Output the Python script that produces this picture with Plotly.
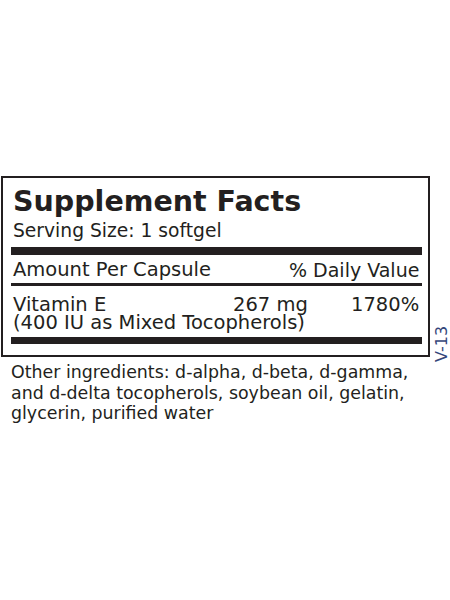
import plotly.graph_objects as go

# ---- content ----
title = "Supplement Facts"
serving = "Serving Size: 1 softgel"
header_left = "Amount Per Capsule"
header_right = "% Daily Value"
nutrients = ["Vitamin E"]
nutrient_notes = ["(400 IU as Mixed Tocopherols)"]
amounts = ["267 mg"]
daily_values = ["1780%"]
other_lines = [
    "Other ingredients: d-alpha, d-beta, d-gamma,",
    "and d-delta tocopherols, soybean oil, gelatin,",
    "glycerin, purified water",
]
code = "V-13"

FONT = "DejaVu Sans"
INK = "#231f20"

fig = go.Figure()
fig.update_xaxes(range=[0, 450], visible=False, fixedrange=True)
fig.update_yaxes(range=[600, 0], visible=False, fixedrange=True)

shapes = []
shapes.append(dict(type="rect", x0=2, x1=429, y0=177, y1=356,
                   line=dict(color=INK, width=2), fillcolor="rgba(0,0,0,0)"))
shapes.append(dict(type="rect", x0=11, x1=422, y0=247, y1=255, line=dict(width=0), fillcolor=INK))
shapes.append(dict(type="rect", x0=11, x1=422, y0=337, y1=344, line=dict(width=0), fillcolor=INK))
shapes.append(dict(type="rect", x0=11, x1=422, y0=283, y1=286, line=dict(width=0), fillcolor=INK))

ann = []
def t(x, y, s, size, xa="left", ya="bottom", color=INK, weight="normal", angle=0):
    ann.append(dict(x=x, y=y, xref="x", yref="y", text=s, showarrow=False,
                    xanchor=xa, yanchor=ya, textangle=angle,
                    font=dict(family=FONT, size=size, color=color, weight=weight)))

t(11, 220, title, 28.5, weight="bold")
t(11, 243, serving, 18.7)
t(11, 283, header_left, 19.5)
t(421, 283, header_right, 19, xa="right")
for i, n in enumerate(nutrients):
    t(11, 318, n, 19.5)
    t(11, 336, nutrient_notes[i], 19.5)
    t(310, 318, amounts[i], 19.5, xa="right")
    t(421, 318, daily_values[i], 19.5, xa="right")
for i, line in enumerate(other_lines):
    t(9, 384 + i * 20.5, line, 17.4)
t(441, 344, code, 16, xa="center", ya="middle", color="#34467a", angle=-90)

fig.update_layout(width=450, height=600, margin=dict(l=0, r=0, t=0, b=0),
                  paper_bgcolor="white", plot_bgcolor="white",
                  shapes=shapes, annotations=ann, showlegend=False)
fig.write_html("out.html", config={"displayModeBar": False},
               post_script="document.body.style.margin='0';")
